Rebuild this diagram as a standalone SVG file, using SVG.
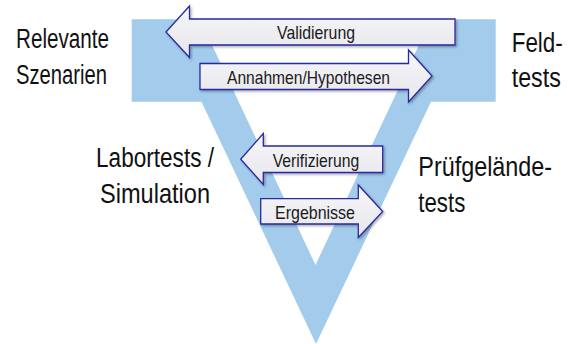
<svg xmlns="http://www.w3.org/2000/svg" width="568" height="344" viewBox="0 0 568 344">
  <defs>
    <linearGradient id="arrowFill" x1="0" y1="0" x2="0" y2="1">
      <stop offset="0" stop-color="#F7F7F9"/>
      <stop offset="1" stop-color="#E6E6EC"/>
    </linearGradient>
    <filter id="shadow" x="-10%" y="-20%" width="125%" height="150%">
      <feDropShadow dx="1.5" dy="1.5" stdDeviation="1.2" flood-color="#000" flood-opacity="0.3"/>
    </filter>
  </defs>
  <style>
    .arrow { fill: url(#arrowFill); stroke: #2A2A9E; stroke-width: 1.3; stroke-linejoin: miter; filter: url(#shadow); }
    .alabel { font-family: "Liberation Sans", Arial, sans-serif; font-size: 18.5px; fill: #1a1a1a; text-anchor: middle; }
    .label { font-family: "Liberation Sans", Arial, sans-serif; font-size: 28px; fill: #111; }
  </style>
  <rect width="568" height="344" fill="#ffffff"/>

  <g id="v-shape">
    <path fill="#A2CBEC" fill-rule="evenodd" d="M131.7,19.3 H495.7 V101.7 H431 L316,344 L201.5,101.7 H131.7 Z M212,45 L419,45 L315.5,265 Z"/>
  </g>

  <g id="connectors">
    <g id="arrow-validierung">
      <path class="arrow" d="M166,32 L189.5,6 L189.5,19 L455,19 L455,45 L189.5,45 L189.5,57.5 Z"/>
      <text class="alabel" x="316" y="38.5" textLength="78" lengthAdjust="spacingAndGlyphs">Validierung</text>
    </g>
    <g id="arrow-annahmen">
      <path class="arrow" d="M200,63.5 L408.5,63.5 L408.5,50 L432,76 L408.5,102 L408.5,89.5 L200,89.5 Z"/>
      <text class="alabel" x="308.5" y="84" textLength="163" lengthAdjust="spacingAndGlyphs">Annahmen/Hypothesen</text>
    </g>
    <g id="arrow-verifizierung">
      <path class="arrow" d="M240.7,159.3 L263.3,133.5 L263.3,146 L382.7,146 L382.7,172.5 L263.3,172.5 L263.3,184.5 Z"/>
      <text class="alabel" x="316" y="166.5" textLength="86.5" lengthAdjust="spacingAndGlyphs">Verifizierung</text>
    </g>
    <g id="arrow-ergebnisse">
      <path class="arrow" d="M260.7,198.7 L358.3,198.7 L358.3,185 L382.7,211.5 L358.3,237.5 L358.3,224 L260.7,224 Z"/>
      <text class="alabel" x="315" y="219" textLength="80" lengthAdjust="spacingAndGlyphs">Ergebnisse</text>
    </g>
  </g>

  <g id="label-relevante-szenarien">
    <text class="label" transform="translate(16,48) scale(0.738,1)">Relevante</text>
    <text class="label" transform="translate(16,84) scale(0.722,1)">Szenarien</text>
  </g>
  <g id="label-feldtests">
    <text class="label" transform="translate(511.7,52) scale(0.8,1)">Feld-</text>
    <text class="label" transform="translate(511.7,87) scale(0.83,1)">tests</text>
  </g>
  <g id="label-labortests">
    <text class="label" transform="translate(96,167) scale(0.807,1)">Labortests /</text>
    <text class="label" transform="translate(100,203) scale(0.842,1)">Simulation</text>
  </g>
  <g id="label-pruefgelaende">
    <text class="label" transform="translate(418.3,176) scale(0.835,1)">Prüfgelände-</text>
    <text class="label" transform="translate(418.3,212) scale(0.795,1)">tests</text>
  </g>
</svg>
